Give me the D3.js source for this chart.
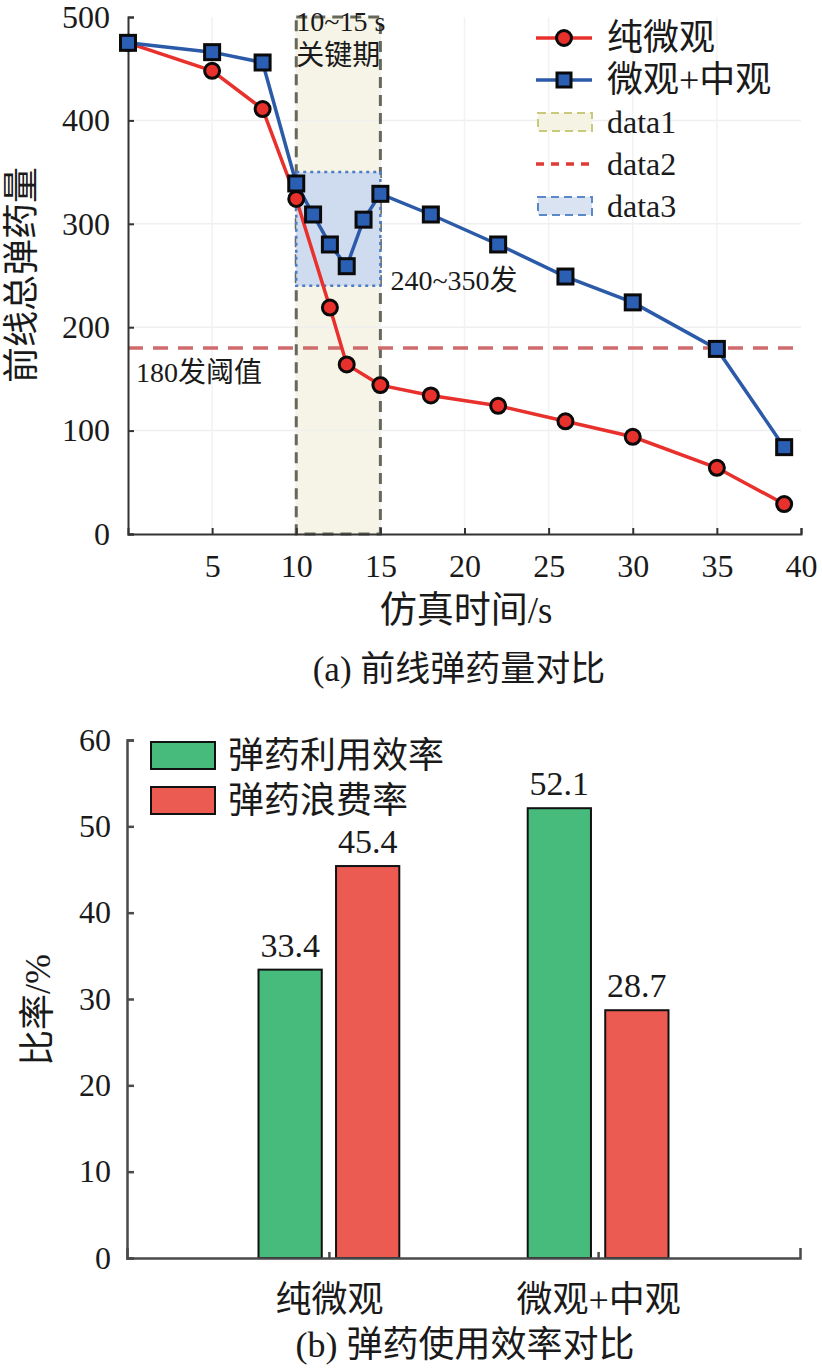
<!DOCTYPE html>
<html>
<head>
<meta charset="utf-8">
<script src="https://cdn.jsdelivr.net/npm/d3@7"></script>
<style>
  body { margin: 0; background: #fff; }
  svg { display: block; }
  text { font-family: "Liberation Serif", "Noto Sans CJK SC", serif; fill: #1a1a1a; }
</style>
</head>
<body>
<svg id="chart" width="822" height="1369"></svg>
<script>
// ---- data: (a) frontline ammo over time ----
const timeRed = [0, 5, 8, 10, 12, 13, 15, 18, 22, 26, 30, 35, 39];
const ammoRed = [475, 448, 411, 324, 219, 164, 144, 134, 124, 109, 94, 64, 29];
const timeBlue = [0, 5, 8, 10, 11, 12, 13, 14, 15, 18, 22, 26, 30, 35, 39];
const ammoBlue = [475, 466, 456, 339, 309, 280, 259, 304, 329, 309, 280, 249, 224, 179, 84];
const seriesNames = ['纯微观', '微观+中观'];
const keyWindow = [10, 15];      // data1 shaded period
const blueBand = [240, 350];     // data3 band
const threshold = 180;           // data2
const xTicksA = [5, 10, 15, 20, 25, 30, 35, 40];
const yTicksA = [0, 100, 200, 300, 400, 500];

// ---- data: (b) efficiency bars ----
const groups = ['纯微观', '微观+中观'];
const barSeries = ['弹药利用效率', '弹药浪费率'];
const usage = [33.4, 52.1];
const waste = [45.4, 28.7];
const yTicksB = [0, 10, 20, 30, 40, 50, 60];

const svg = d3.select("#chart");

// =================== chart (a) ===================
const xA = d3.scaleLinear().domain([0, 40]).range([128, 801]);
const yA = d3.scaleLinear().domain([0, 500]).range([534, 17]);
const gA = svg.append("g");

// shaded key period
gA.append("rect")
    .attr("x", xA(keyWindow[0])).attr("y", yA(500))
    .attr("width", xA(keyWindow[1]) - xA(keyWindow[0]))
    .attr("height", yA(0) - yA(500))
    .attr("fill", "#f5f4e6");

// light grid on top of the patch
gA.append("g").selectAll("line")
    .data(yTicksA.slice(1, -1)).enter().append("line")
    .attr("x1", xA(0)).attr("x2", xA(40))
    .attr("y1", d => yA(d)).attr("y2", d => yA(d))
    .attr("stroke", "#efefef").attr("stroke-width", 1.5);
gA.append("g").selectAll("line")
    .data(xTicksA.slice(0, -1)).enter().append("line")
    .attr("x1", d => xA(d)).attr("x2", d => xA(d))
    .attr("y1", yA(0)).attr("y2", yA(500))
    .attr("stroke", "#f2f2f2").attr("stroke-width", 1.5);

// dashed border of the key period
gA.append("rect")
    .attr("x", xA(keyWindow[0])).attr("y", yA(500))
    .attr("width", xA(keyWindow[1]) - xA(keyWindow[0]))
    .attr("height", yA(0) - yA(500))
    .attr("fill", "none")
    .attr("stroke", "#66685a").attr("stroke-width", 3)
    .attr("stroke-dasharray", "11,7");

// blue band 240~350
gA.append("rect")
    .attr("x", xA(keyWindow[0])).attr("y", yA(blueBand[1]))
    .attr("width", xA(keyWindow[1]) - xA(keyWindow[0]))
    .attr("height", yA(blueBand[0]) - yA(blueBand[1]))
    .attr("fill", "#cfdbee")
    .attr("stroke", "#4c7cc4").attr("stroke-width", 2.5)
    .attr("stroke-dasharray", "3,4");

// threshold line
gA.append("line")
    .attr("x1", xA(0)).attr("x2", xA(40))
    .attr("y1", yA(threshold)).attr("y2", yA(threshold))
    .attr("stroke", "#cf6b6d").attr("stroke-width", 3.5)
    .attr("stroke-dasharray", "15,10");

// axes (ticks point inward)
const axA_x = gA.append("g").attr("transform", `translate(0,${yA(0)})`)
    .call(d3.axisBottom(xA).tickValues(xTicksA).tickSizeInner(-6).tickSizeOuter(-6).tickPadding(20));
const axA_y = gA.append("g").attr("transform", `translate(${xA(0)},0)`)
    .call(d3.axisLeft(yA).tickValues(yTicksA).tickSizeInner(-6).tickSizeOuter(-6).tickPadding(18));
[axA_x, axA_y].forEach(ax => {
    ax.select(".domain").attr("stroke", "#333").attr("stroke-width", 2);
    ax.selectAll(".tick line").attr("stroke", "#333").attr("stroke-width", 2);
    ax.selectAll(".tick text").attr("font-size", 32).attr("fill", "#1a1a1a");
});
axA_x.selectAll(".tick text").attr("dy", "0.72em");

// lines
const lineGen = d3.line().x(d => xA(d[0])).y(d => yA(d[1]));
const redPts = timeRed.map((t, i) => [t, ammoRed[i]]);
const bluePts = timeBlue.map((t, i) => [t, ammoBlue[i]]);

gA.append("path").datum(redPts).attr("d", lineGen)
    .attr("fill", "none").attr("stroke", "#e8302c").attr("stroke-width", 3.5);
gA.append("path").datum(bluePts).attr("d", lineGen)
    .attr("fill", "none").attr("stroke", "#2b5aa8").attr("stroke-width", 3.5);

gA.append("g").selectAll("circle").data(redPts).enter().append("circle")
    .attr("cx", d => xA(d[0])).attr("cy", d => yA(d[1])).attr("r", 7.5)
    .attr("fill", "#e8302c").attr("stroke", "#0a0a0a").attr("stroke-width", 3);
gA.append("g").selectAll("rect").data(bluePts).enter().append("rect")
    .attr("x", d => xA(d[0]) - 7.5).attr("y", d => yA(d[1]) - 7.5)
    .attr("width", 15).attr("height", 15)
    .attr("fill", "#2b5fb4").attr("stroke", "#0a0a0a").attr("stroke-width", 3);

// annotations
const annoSize = 28;
gA.append("text").attr("x", xA(10)).attr("y", 31).attr("font-size", annoSize).attr("fill", "#333").text("10~15 s");
gA.append("text").attr("x", xA(10)).attr("y", 65).attr("font-size", annoSize).attr("fill", "#333").text("关键期");
gA.append("text").attr("x", xA(15) + 10).attr("y", 290).attr("font-size", annoSize).attr("fill", "#333").text("240~350发");
gA.append("text").attr("x", xA(0) + 8).attr("y", 382).attr("font-size", annoSize).attr("fill", "#333").text("180发阈值");

// axis titles and caption
gA.append("text").attr("transform", "translate(34,275) rotate(-90)")
    .attr("text-anchor", "middle").attr("font-size", 36).text("前线总弹药量");
gA.append("text").attr("x", 466).attr("y", 623)
    .attr("text-anchor", "middle").attr("font-size", 37).text("仿真时间/s");
gA.append("text").attr("x", 459).attr("y", 681)
    .attr("text-anchor", "middle").attr("font-size", 35).text("(a) 前线弹药量对比");

// legend (a)
const legA = gA.append("g");
const legRowY = [38, 80, 122, 164, 206];
// series rows
legA.append("line").attr("x1", 536).attr("x2", 592).attr("y1", legRowY[0]).attr("y2", legRowY[0])
    .attr("stroke", "#e8302c").attr("stroke-width", 3.5);
legA.append("circle").attr("cx", 564).attr("cy", legRowY[0]).attr("r", 7.5)
    .attr("fill", "#e8302c").attr("stroke", "#0a0a0a").attr("stroke-width", 3);
legA.append("line").attr("x1", 536).attr("x2", 592).attr("y1", legRowY[1]).attr("y2", legRowY[1])
    .attr("stroke", "#2b5aa8").attr("stroke-width", 3.5);
legA.append("rect").attr("x", 557).attr("y", legRowY[1] - 7).attr("width", 14).attr("height", 14)
    .attr("fill", "#2b5fb4").attr("stroke", "#0a0a0a").attr("stroke-width", 3);
// data1 box
legA.append("rect").attr("x", 538).attr("y", legRowY[2] - 9).attr("width", 54).attr("height", 18)
    .attr("fill", "#f5f4e4").attr("stroke", "#c9c97a").attr("stroke-width", 2).attr("stroke-dasharray", "8,5");
// data2 line
legA.append("line").attr("x1", 536).attr("x2", 592).attr("y1", legRowY[3]).attr("y2", legRowY[3])
    .attr("stroke", "#e03a36").attr("stroke-width", 3.5).attr("stroke-dasharray", "8,7");
// data3 box
legA.append("rect").attr("x", 538).attr("y", legRowY[4] - 9).attr("width", 54).attr("height", 18)
    .attr("fill", "#d9e3f2").attr("stroke", "#5b88c9").attr("stroke-width", 2).attr("stroke-dasharray", "8,5");

const legLabels = [seriesNames[0], seriesNames[1], "data1", "data2", "data3"];
legA.selectAll("text.lab").data(legLabels).enter().append("text")
    .attr("class", "lab")
    .attr("x", 607).attr("y", (d, i) => legRowY[i] + (i < 2 ? 12 : 11))
    .attr("font-size", (d, i) => i < 2 ? 36 : 32)
    .attr("fill", "#222")
    .text(d => d);

// =================== chart (b) ===================
const xB = d3.scaleLinear().domain([0.25, 2.75]).range([127, 800]);
const yB = d3.scaleLinear().domain([0, 60]).range([1258, 740]);
const gB = svg.append("g");

const barW = 0.235, barOff = 0.144;
const barColors = ["#47bb7c", "#ec5b52"];
const barData = [];
groups.forEach((g, i) => {
    barData.push({ gi: i + 1, s: 0, v: usage[i] });
    barData.push({ gi: i + 1, s: 1, v: waste[i] });
});

gB.append("g").selectAll("rect").data(barData).enter().append("rect")
    .attr("x", d => xB(d.gi + (d.s === 0 ? -barOff : barOff) - barW / 2))
    .attr("y", d => yB(d.v))
    .attr("width", d => xB(barW) - xB(0))
    .attr("height", d => yB(0) - yB(d.v))
    .attr("fill", d => barColors[d.s])
    .attr("stroke", "#111").attr("stroke-width", 2);

gB.append("g").selectAll("text").data(barData).enter().append("text")
    .attr("x", d => xB(d.gi + (d.s === 0 ? -barOff : barOff)))
    .attr("y", d => yB(d.v) - 13)
    .attr("text-anchor", "middle").attr("font-size", 34)
    .text(d => d.v.toFixed(1));

const axB_x = gB.append("g").attr("transform", `translate(0,${yB(0)})`)
    .call(d3.axisBottom(xB).tickValues([1, 2]).tickFormat(d => groups[d - 1])
        .tickSizeInner(-6).tickSizeOuter(-10).tickPadding(28));
const axB_y = gB.append("g").attr("transform", `translate(${xB(0.25)},0)`)
    .call(d3.axisLeft(yB).tickValues(yTicksB).tickSizeInner(-7).tickSizeOuter(-7).tickPadding(16));
[axB_x, axB_y].forEach(ax => {
    ax.select(".domain").attr("stroke", "#4a4a4a").attr("stroke-width", 2.5);
    ax.selectAll(".tick line").attr("stroke", "#4a4a4a").attr("stroke-width", 2.5);
    ax.selectAll(".tick text").attr("font-size", 32).attr("fill", "#1a1a1a");
});
axB_x.selectAll(".tick text").attr("dy", "0.72em").attr("font-size", 36);

gB.append("text").attr("transform", "translate(50,1010) rotate(-90)")
    .attr("text-anchor", "middle").attr("font-size", 36).text("比率/%");
gB.append("text").attr("x", 465).attr("y", 1357)
    .attr("text-anchor", "middle").attr("font-size", 36).text("(b) 弹药使用效率对比");

// legend (b)
const legB = gB.append("g");
const legBY = [755, 800];
legB.selectAll("rect").data(barSeries).enter().append("rect")
    .attr("x", 151).attr("y", (d, i) => legBY[i] - 13)
    .attr("width", 64).attr("height", 27)
    .attr("fill", (d, i) => barColors[i]).attr("stroke", "#111").attr("stroke-width", 2);
legB.selectAll("text").data(barSeries).enter().append("text")
    .attr("x", 228).attr("y", (d, i) => legBY[i] + 13)
    .attr("font-size", 36)
    .text(d => d);
</script>
</body>
</html>
